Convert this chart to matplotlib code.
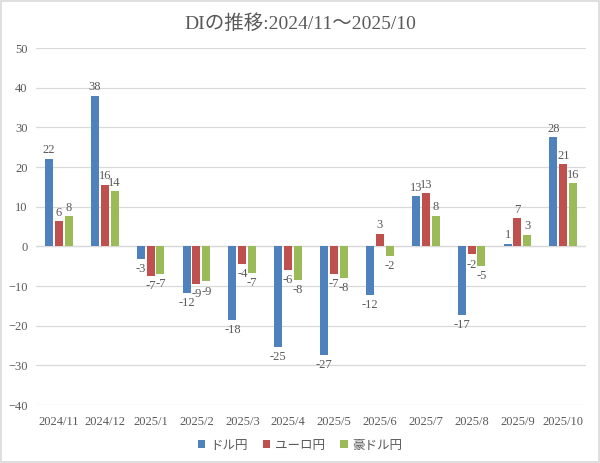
import numpy as np
import matplotlib
matplotlib.use("Agg")
import matplotlib.pyplot as plt
from matplotlib.patches import Rectangle

plt.rcParams['font.family'] = ['Liberation Serif', 'Noto Sans CJK JP', 'DejaVu Sans']

months = ["2024/11", "2024/12", "2025/1", "2025/2", "2025/3", "2025/4",
          "2025/5", "2025/6", "2025/7", "2025/8", "2025/9", "2025/10"]
series_names = ["ドル円", "ユーロ円", "豪ドル円"]
usd_jpy = [22.0, 38.0, -3.1, -11.7, -18.5, -25.4, -27.3, -12.3, 12.6, -17.2, 0.7, 27.5]
eur_jpy = [6.3, 15.5, -7.4, -9.4, -4.3, -6.0, -6.9, 3.2, 13.4, -2.0, 7.1, 20.7]
aud_jpy = [7.6, 13.9, -6.9, -8.8, -6.6, -8.4, -7.9, -2.3, 7.8, -5.0, 3.0, 15.9]
colors = ["#4F81BD", "#C0504D", "#9BBB59"]

text_col = "#595959"

fig = plt.figure(figsize=(6, 4.63), dpi=100)
ax = fig.add_axes([0.06, 0.125, 0.917, 0.771])

x = np.arange(len(months))
width = 0.175
step = 0.215
for i, (vals, name, c) in enumerate(zip([usd_jpy, eur_jpy, aud_jpy], series_names, colors)):
    bars = ax.bar(x + (i - 1) * step, vals, width, color=c, label=name, zorder=3)
    for b, v in zip(bars, vals):
        lab = "%d" % round(v)
        if v >= 0:
            ax.annotate(lab, (b.get_x() + b.get_width() / 2, v), xytext=(0, 2),
                        textcoords="offset points", ha="center", va="bottom",
                        fontsize=9, color=text_col)
        else:
            ax.annotate(lab, (b.get_x() + b.get_width() / 2, v), xytext=(0, -3),
                        textcoords="offset points", ha="center", va="top",
                        fontsize=9, color=text_col)

ax.set_ylim(-40, 50)
ax.set_xlim(-0.5, len(months) - 0.5)
ax.set_yticks(range(-40, 51, 10))
ax.set_xticks(x)
ax.set_xticklabels(months)
ax.grid(axis="y", color="#D9D9D9", linewidth=0.9, zorder=0)
ax.axhline(0, color="#D9D9D9", linewidth=0.9, zorder=1)
for s in ax.spines.values():
    s.set_visible(False)
ax.tick_params(length=0, labelsize=9, colors=text_col, pad=8)
ax.tick_params(axis="y", pad=6)

fig.suptitle("DIの推移:2024/11～2025/10", y=0.97, fontsize=14, color=text_col)

fig.legend(loc="lower center", bbox_to_anchor=(0.5, 0.0), ncol=3, frameon=False,
           fontsize=9, handlelength=0.6, handleheight=0.6, handletextpad=0.4,
           columnspacing=1.2, labelcolor=text_col)

fig.patches.append(Rectangle((0.002, 0.002), 0.996, 0.996, transform=fig.transFigure,
                             fill=False, edgecolor="#D9D9D9", linewidth=1.2))

fig.savefig("out.png", dpi=100, facecolor="white")
